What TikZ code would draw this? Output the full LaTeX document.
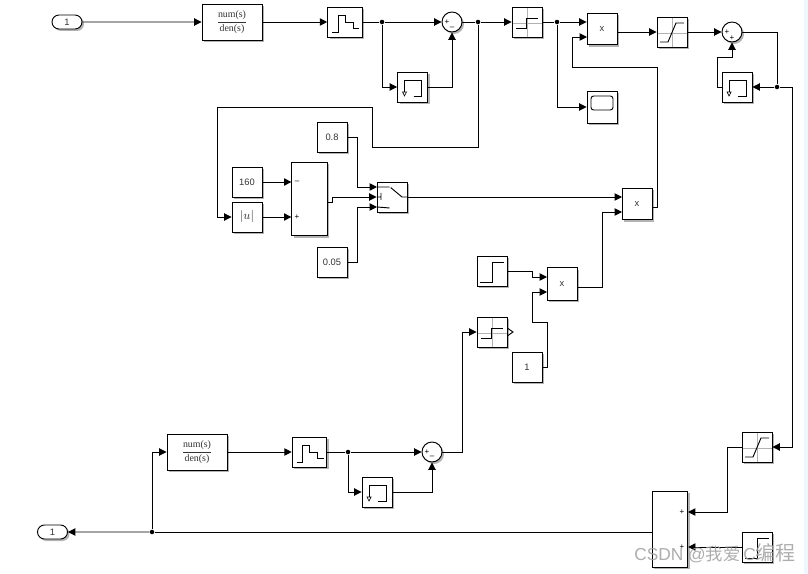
\documentclass[tikz,border=0pt]{standalone}
\usepackage{fontspec}
\setmainfont{Liberation Sans}
\newfontfamily\tffont{Liberation Serif}
\newfontfamily\cjkfont{Noto Sans CJK SC}
\usetikzlibrary{arrows.meta,shapes.misc,shadows}
\tikzset{
	shade blk/.style={drop shadow={shadow xshift=1.5pt,shadow yshift=-1.5pt,fill=black!50,opacity=.6}},
	block/.style={draw=black, fill=white, line width=.7pt, minimum width=22.5pt, minimum height=22.5pt, inner sep=0pt, text=black!80, font=\fontsize{7}{8}\selectfont, shade blk},
	tf/.style={block, minimum width=45pt, minimum height=27pt, font=\fontsize{7.4}{8}\selectfont\tffont},
	tall/.style={block, minimum width=26.5pt},
	pill/.style={block, rounded rectangle, minimum width=22.5pt, minimum height=10.5pt},
	sumc/.style={block, circle, minimum size=15pt},
	dot/.style={circle, fill=black, inner sep=0pt, minimum size=3.4pt},
	sign/.style={inner sep=0pt, font=\fontsize{6}{6}\selectfont},
	zoh/.style={block, minimum width=26pt, path picture={
		\draw[shift={(path picture bounding box.center)}] (-13,10)--(-7,10)--(-7,-7)--(0,-7)--(0,0)--(8,0)--(8,6)--(14,6);}},
	memo/.style={block, path picture={
		\draw[shift={(path picture bounding box.center)}] (1,9)--(9,9)--(9,-7)--(-8,-7)--(-8,5);
		\draw[shift={(path picture bounding box.center)}, line width=.5pt] (-10,5)--(-6,5)--(-8,9)--cycle;}},
	relayb/.style={block, path picture={
		\draw[shift={(path picture bounding box.center)}, gray!60, line width=.5pt] (-15,1)--(15,1) (0,-15)--(0,15);
		\draw[shift={(path picture bounding box.center)}] (-11,6)--(-1,6)--(-1,-4)--(11,-4);}},
	satb/.style={block, path picture={
		\draw[shift={(path picture bounding box.center)}, gray!60, line width=.5pt] (-15,1)--(15,1) (0,-15)--(0,15);
		\draw[shift={(path picture bounding box.center)}] (-12,10)--(-4,10)--(4,-9)--(12,-9);}},
	stepb/.style={block, path picture={
		\draw[shift={(path picture bounding box.center)}] (-12,11)--(0,11)--(0,-9)--(12,-9);}},
	scopeb/.style={block, minimum height=24pt, path picture={
		\draw[shift={(path picture bounding box.center)}, rounded corners=2pt] (-11,-11) rectangle (11,3);}},
	swb/.style={block, path picture={
		\draw[shift={(path picture bounding box.center)}] (-15,-10)--(-2,-10)--(10,0)--(15,0) (-15,0)--(-11,0) (-11,-4)--(-11,3) (-15,10)--(-2,11);
		\fill[shift={(path picture bounding box.center)}] (-2,-10) circle (1) (-2,11) circle (1);}},
	wire/.style={line width=.7pt, -{Triangle[length=5.5pt,width=5.5pt]}},
	line/.style={line width=.7pt},
}
\begin{document}
\begin{tikzpicture}[x=.75pt, y=-.75pt, line join=miter]
	\useasboundingbox (0,0) rectangle (808,574);
	\fill[blue!30!cyan!8] (804,0) rectangle (808,574);
	% hang 1
	\node[pill] (in1) at (67,22) {1};
	\node[tf] (tf1) at (232,22) {$\displaystyle\frac{\mbox{num(s)}}{\mbox{den(s)}}$};
	\node[zoh] (zoh1) at (345,22) {};
	\node[dot] (jn1) at (382,22) {};
	\node[memo] (mem1) at (412.5,87) {};
	\node[sumc] (sum1) at (452,22) {};
	\node[sign] (sum1p) at (447,22) {+};
	\node[sign] (sum1m) at (452,28) {--};
	\node[dot] (jn2) at (478,22) {};
	\node[relayb] (relay1) at (527,22) {};
	\node[dot] (jn3) at (557,22) {};
	\node[block, minimum height=23.5pt] (prod1) at (602,29) {x};
	\node[satb] (sat1) at (672,32) {};
	\node[sumc] (sum2) at (732,32) {};
	\node[sign] (sum2p) at (727,32) {+};
	\node[sign] (sum2q) at (732,38) {+};
	\node[memo] (mem2) at (737,87) {};
	\node[dot] (jn4) at (777,87) {};
	\node[scopeb] (scope1) at (602,107) {};
	% hang 2
	\node[block] (c08) at (332,137) {0.8};
	\node[block] (c160) at (247,182) {160};
	\node[block, font=\fontsize{9.5}{10}\selectfont] (abs1) at (247,217) {$|u|$};
	\node[tall, minimum height=55pt] (add1) at (309.5,199) {};
	\node[sign] (add1m) at (297,182) {--};
	\node[sign] (add1p) at (297,217) {+};
	\node[block] (c005) at (332,262) {0.05};
	\node[swb] (sw1) at (392,197) {};
	\node[block, minimum height=23.5pt] (prod3) at (637,204) {x};
	\node[stepb] (step1) at (492,271) {};
	\node[block, minimum height=24.5pt] (prod2) at (562,284) {x};
	\node[relayb] (relay2) at (492,332) {};
	\node[block] (c1) at (527,367) {1};
	% hang 3
	\node[tf] (tf2) at (197,452) {$\displaystyle\frac{\mbox{num(s)}}{\mbox{den(s)}}$};
	\node[zoh] (zoh2) at (309.5,452) {};
	\node[dot] (jn5) at (348,452) {};
	\node[memo] (mem3) at (377,492) {};
	\node[sumc] (sum3) at (432,452) {};
	\node[sign] (sum3p) at (427,452) {+};
	\node[sign] (sum3m) at (432,457) {--};
	\node[satb] (sat2) at (757,447) {};
	\node[tall, minimum height=57pt] (add2) at (670,529) {};
	\node[sign] (add2p) at (682,512) {+};
	\node[sign] (add2q) at (682,547) {+};
	\node[stepb] (step2) at (757,547) {};
	\node[dot] (jn6) at (152,532) {};
	\node[pill] (out1) at (52.5,532) {1};
	% cong vao
	\coordinate (prod1b) at (587,37);
	\coordinate (sw1a) at (377,187);
	\coordinate (sw1c) at (377,207);
	\coordinate (prod3a) at (622,197);
	\coordinate (prod3b) at (622,212);
	\coordinate (prod3o) at (652,207);
	\coordinate (prod2a) at (547,277);
	\coordinate (prod2b) at (547,292);
	\coordinate (prod2o) at (577,287);
	\coordinate (add1o) at (327,202);
	\coordinate (add2a) at (688,512);
	\coordinate (add2o) at (652,532);
	% day noi
	\draw[wire] (in1)--(tf1);
	\draw[wire] (tf1)--(zoh1);
	\draw[line] (zoh1)--(jn1);
	\draw[wire] (jn1)--(sum1);
	\draw[wire] (jn1) |- (mem1);
	\draw[wire] (mem1) -| (sum1);
	\draw[line] (sum1)--(jn2);
	\draw[wire] (jn2)--(relay1);
	\draw[line] (relay1)--(jn3);
	\draw[wire] (jn3)--(jn3 -| prod1.west);
	\draw[wire] (jn3) |- (scope1);
	\draw[wire] (prod3o)--++(5,0)|-(572,67)|-(prod1b);
	\draw[wire] (prod1.east |- sat1)--(sat1);
	\draw[wire] (sat1)--(sum2);
	\draw[line] (sum2) -| (jn4);
	\draw[wire] (jn4)--(mem2);
	\draw[wire] (mem2.west)--(717,87)|-(732,57)--(sum2);
	\draw[wire] (jn4)--(792,87)|-(sat2);
	\draw[wire] (sat2)--(727,447)|-(add2a);
	\draw[wire] (step2)--(step2 -| add2.east);
	\draw[wire] (jn2)|-(372,147)|-(217,107)|-(abs1);
	\draw[wire] (c160)--(c160 -| add1.west);
	\draw[wire] (abs1)--(abs1 -| add1.west);
	\draw[wire] (c08)-|(357,187)--(sw1a);
	\draw[wire] (c005)-|(357,207)--(sw1c);
	\draw[wire] (add1o)--(332,202)|-(sw1.west);
	\draw[wire] (sw1.east)--(prod3a);
	\draw[wire] (step1.east)--(532,271)|-(prod2a);
	\draw[wire] (c1.east)-|(547,322)-|(532,292)--(prod2b);
	\draw[wire] (prod2o)-|(602,212)--(prod3b);
	\draw[wire] (sum3.east)-|(462,332)--(relay2);
	\draw[line] (508,328.5)--(513,332)--(508,335.5);
	\draw[line] (add2o)--(jn6);
	\draw[wire] (jn6)--(out1);
	\draw[wire] (jn6)|-(tf2);
	\draw[wire] (tf2)--(zoh2);
	\draw[line] (zoh2)--(jn5);
	\draw[wire] (jn5)--(sum3);
	\draw[wire] (jn5)|-(mem3);
	\draw[wire] (mem3)-|(sum3);
	% chu mo
	\node[anchor=base west, inner sep=0pt, text=gray!75, opacity=.85, font=\fontsize{13}{13}\selectfont] (mark) at (634,560) {CSDN @{\cjkfont 我爱}\,C{\fontsize{15}{15}\selectfont\cjkfont 编程}};
\end{tikzpicture}
\end{document}
